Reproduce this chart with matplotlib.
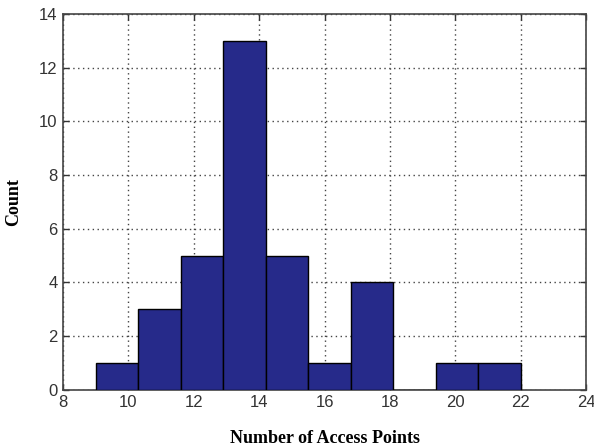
import matplotlib
matplotlib.use("Agg")
import matplotlib.pyplot as plt
import numpy as np

bin_edges = [9.0, 10.3, 11.6, 12.9, 14.2, 15.5, 16.8, 18.1, 19.4, 20.7, 22.0]
counts = [1, 3, 5, 13, 5, 1, 4, 0, 1, 1]
x_ticks = [8, 10, 12, 14, 16, 18, 20, 22, 24]
y_ticks = [0, 2, 4, 6, 8, 10, 12, 14]

fig = plt.figure(figsize=(5.94, 4.47), dpi=100)
ax = fig.add_axes([0.106, 0.128, 0.881, 0.841])

edges = np.array(bin_edges)
widths = np.diff(edges)
ax.bar(edges[:-1], counts, width=widths, align='edge', color='#262A8A',
       edgecolor='black', linewidth=1.0, zorder=3)

ax.set_xlim(8, 24)
ax.set_ylim(0, 14)
ax.set_xticks(x_ticks)
ax.set_yticks(y_ticks)
ax.grid(True, linestyle=(0, (1, 2.5)), color='#444444', linewidth=1.0, zorder=0)
ax.set_axisbelow(True)
ax.tick_params(direction='in', top=True, right=True, length=4, width=1,
               labelsize=12, colors='#333333', pad=4)
for lab in ax.get_xticklabels() + ax.get_yticklabels():
    lab.set_family('Liberation Sans')
for s in ax.spines.values():
    s.set_color('#444444')
    s.set_linewidth(1.2)

ax.set_xlabel('Number of Access Points', family='Liberation Serif',
              fontweight='bold', fontsize=13, labelpad=14)
ax.set_ylabel('Count', family='Liberation Serif', fontweight='bold',
              fontsize=13, labelpad=12)

fig.savefig('out.png', dpi=100)
